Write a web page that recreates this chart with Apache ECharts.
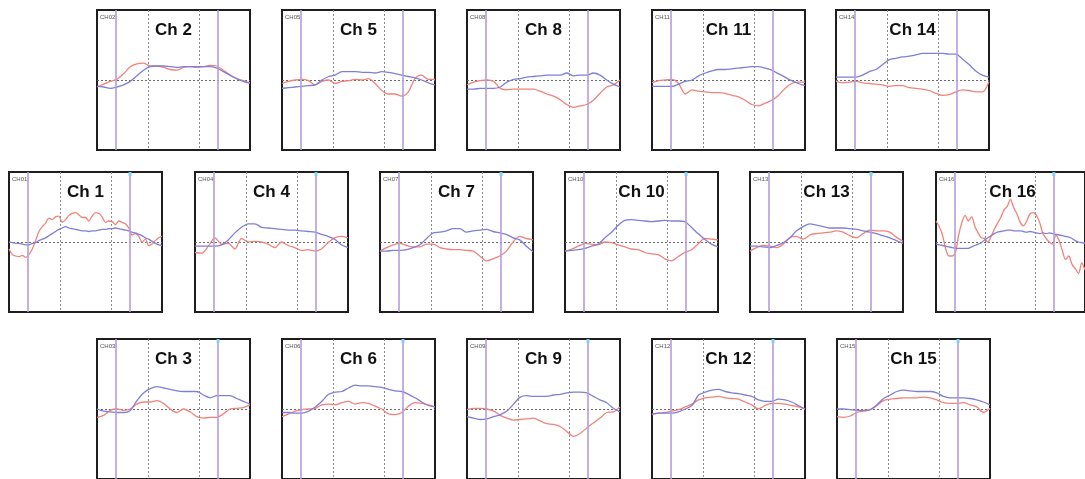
<!DOCTYPE html>
<html>
<head>
<meta charset="utf-8">
<script src="https://cdn.jsdelivr.net/npm/echarts@6/dist/echarts.min.js"></script>
<style>
  html, body { margin: 0; padding: 0; background: #fff; }
  #chart { width: 1085px; height: 479px; }
</style>
</head>
<body>
<div id="chart"></div>
<script>
// ------------------------------------------------------------
// data: relative signal per channel, blue = oxy, red = deoxy
// each list is sampled evenly over the 0..45 s window
// ------------------------------------------------------------
var ch1Blue = [0.0, -0.01, -0.02, -0.02, -0.03, -0.04, -0.04, -0.02, -0.01, 0.02, 0.04, 0.06, 0.09, 0.12, 0.15, 0.18, 0.2, 0.22, 0.2, 0.19, 0.18, 0.17, 0.16, 0.16, 0.15, 0.16, 0.16, 0.17, 0.18, 0.18, 0.19, 0.19, 0.2, 0.19, 0.18, 0.17, 0.16, 0.14, 0.13, 0.11, 0.09, 0.06, 0.04, 0.01, -0.02, -0.04, -0.05];
var ch1Red = [-0.1, -0.18, -0.2, -0.21, -0.19, -0.22, -0.18, -0.1, 0.02, 0.15, 0.22, 0.27, 0.34, 0.32, 0.36, 0.37, 0.28, 0.32, 0.38, 0.41, 0.42, 0.39, 0.35, 0.35, 0.3, 0.37, 0.42, 0.41, 0.36, 0.28, 0.3, 0.29, 0.25, 0.3, 0.28, 0.26, 0.2, 0.1, 0.12, 0.08, 0.0, 0.04, -0.05, -0.03, 0.02, 0.06, 0.08];

var ch2Blue = [-0.09, -0.1, -0.12, -0.1, -0.07, -0.02, 0.06, 0.14, 0.19, 0.2, 0.2, 0.19, 0.18, 0.19, 0.19, 0.19, 0.19, 0.19, 0.17, 0.12, 0.07, 0.02, -0.02, -0.05];
var ch2Red = [-0.1, -0.06, -0.02, 0.01, 0.09, 0.19, 0.23, 0.24, 0.2, 0.2, 0.18, 0.15, 0.14, 0.18, 0.19, 0.18, 0.19, 0.21, 0.2, 0.14, 0.07, 0.02, -0.01, -0.04];

var ch3Blue = [0.0, -0.03, -0.04, -0.05, -0.05, -0.02, 0.12, 0.23, 0.29, 0.32, 0.3, 0.28, 0.26, 0.25, 0.25, 0.25, 0.2, 0.16, 0.19, 0.19, 0.19, 0.15, 0.11, 0.07];
var ch3Red = [-0.12, -0.09, -0.02, 0.0, -0.02, 0.0, 0.07, 0.1, 0.1, 0.12, 0.08, 0.0, -0.05, 0.0, -0.04, -0.11, -0.13, -0.12, -0.12, -0.07, 0.0, 0.01, 0.02, 0.06];

var ch4Blue = [-0.06, -0.06, -0.06, -0.06, -0.04, 0.03, 0.13, 0.21, 0.26, 0.26, 0.21, 0.2, 0.19, 0.18, 0.17, 0.17, 0.16, 0.15, 0.14, 0.11, 0.08, 0.04, -0.04, -0.08];
var ch4Red = [-0.15, -0.16, -0.06, 0.06, -0.03, -0.02, -0.1, 0.05, 0.0, 0.01, 0.0, -0.03, -0.08, 0.0, -0.05, -0.08, -0.12, -0.11, -0.13, -0.1, -0.01, 0.06, 0.08, 0.06];

var ch5Blue = [-0.12, -0.11, -0.1, -0.09, -0.08, -0.07, 0.0, 0.05, 0.07, 0.12, 0.12, 0.12, 0.11, 0.11, 0.1, 0.12, 0.11, 0.09, 0.07, 0.05, 0.03, 0.0, -0.04, -0.07];
var ch5Red = [-0.05, -0.02, 0.0, 0.01, -0.01, -0.07, -0.02, 0.0, -0.05, -0.02, -0.01, 0.01, 0.0, 0.02, -0.05, -0.15, -0.2, -0.2, -0.23, -0.17, 0.02, 0.07, 0.01, 0.01];

var ch6Blue = [-0.05, -0.05, -0.06, -0.06, -0.03, 0.03, 0.11, 0.21, 0.24, 0.25, 0.3, 0.34, 0.33, 0.33, 0.32, 0.31, 0.28, 0.26, 0.25, 0.21, 0.16, 0.1, 0.05, 0.03];
var ch6Red = [-0.11, -0.07, -0.03, -0.01, 0.0, 0.01, 0.06, 0.07, 0.06, 0.09, 0.11, 0.07, 0.09, 0.08, 0.04, 0.0, -0.07, -0.08, -0.05, 0.04, 0.09, 0.08, 0.06, 0.03];

var ch7Blue = [-0.13, -0.13, -0.12, -0.12, -0.11, -0.08, -0.04, 0.05, 0.13, 0.14, 0.16, 0.19, 0.19, 0.14, 0.16, 0.17, 0.18, 0.15, 0.13, 0.11, 0.06, 0.03, -0.06, -0.14];
var ch7Red = [-0.13, -0.08, -0.04, -0.02, -0.05, -0.07, -0.07, -0.03, -0.03, -0.08, -0.1, -0.11, -0.11, -0.12, -0.13, -0.2, -0.27, -0.24, -0.2, -0.13, 0.0, 0.08, 0.05, 0.03];

var ch8Blue = [-0.13, -0.13, -0.12, -0.12, -0.12, -0.1, -0.03, 0.01, 0.02, 0.04, 0.05, 0.06, 0.07, 0.07, 0.07, 0.1, 0.06, 0.07, 0.07, 0.1, 0.07, 0.0, -0.06, -0.1];
var ch8Red = [-0.07, -0.03, -0.01, 0.0, -0.02, -0.12, -0.14, -0.13, -0.13, -0.13, -0.13, -0.16, -0.2, -0.23, -0.28, -0.35, -0.39, -0.37, -0.35, -0.29, -0.19, -0.1, -0.07, 0.0];

var ch9Blue = [-0.11, -0.13, -0.15, -0.14, -0.11, -0.08, -0.03, 0.07, 0.17, 0.19, 0.18, 0.18, 0.18, 0.2, 0.21, 0.23, 0.24, 0.24, 0.23, 0.18, 0.13, 0.09, 0.01, -0.04];
var ch9Red = [-0.01, 0.01, 0.01, 0.0, -0.03, -0.09, -0.13, -0.16, -0.15, -0.14, -0.13, -0.17, -0.21, -0.22, -0.25, -0.32, -0.39, -0.35, -0.27, -0.2, -0.13, -0.05, -0.04, 0.03];

var ch10Blue = [-0.13, -0.12, -0.11, -0.09, -0.06, -0.03, 0.06, 0.14, 0.24, 0.31, 0.32, 0.31, 0.3, 0.29, 0.3, 0.31, 0.3, 0.3, 0.29, 0.21, 0.12, 0.04, -0.03, -0.07];
var ch10Red = [-0.13, -0.1, -0.06, -0.02, -0.03, -0.04, 0.0, -0.01, -0.04, -0.07, -0.1, -0.11, -0.15, -0.17, -0.18, -0.24, -0.27, -0.21, -0.15, -0.11, -0.03, 0.05, 0.04, 0.03];

var ch11Blue = [-0.09, -0.09, -0.09, -0.09, -0.06, -0.02, 0.0, 0.06, 0.1, 0.13, 0.15, 0.15, 0.16, 0.17, 0.18, 0.19, 0.19, 0.17, 0.14, 0.09, 0.04, -0.01, -0.05, -0.08];
var ch11Red = [-0.04, -0.01, 0.0, 0.01, -0.05, -0.2, -0.14, -0.16, -0.17, -0.18, -0.18, -0.19, -0.22, -0.24, -0.29, -0.35, -0.37, -0.33, -0.29, -0.22, -0.12, -0.05, -0.03, -0.03];

var ch12Blue = [-0.07, -0.06, -0.06, -0.06, -0.04, 0.0, 0.05, 0.2, 0.24, 0.27, 0.28, 0.25, 0.23, 0.22, 0.2, 0.18, 0.13, 0.11, 0.11, 0.14, 0.13, 0.1, 0.05, 0.0];
var ch12Red = [-0.08, -0.06, -0.05, -0.03, -0.01, 0.03, 0.07, 0.13, 0.16, 0.17, 0.18, 0.16, 0.15, 0.14, 0.1, 0.06, 0.0, 0.05, 0.08, 0.08, 0.07, 0.05, 0.03, 0.0];

var ch13Blue = [-0.06, -0.06, -0.07, -0.08, -0.05, -0.01, 0.06, 0.16, 0.22, 0.26, 0.24, 0.22, 0.2, 0.2, 0.2, 0.19, 0.18, 0.16, 0.14, 0.12, 0.09, 0.06, 0.02, -0.02];
var ch13Red = [-0.13, -0.08, -0.05, -0.06, -0.08, -0.03, 0.06, 0.08, 0.04, 0.1, 0.12, 0.13, 0.14, 0.16, 0.14, 0.09, 0.06, 0.12, 0.17, 0.16, 0.16, 0.14, 0.07, 0.01];

var ch14Blue = [0.04, 0.04, 0.04, 0.04, 0.07, 0.12, 0.15, 0.22, 0.29, 0.31, 0.33, 0.34, 0.36, 0.38, 0.38, 0.38, 0.38, 0.37, 0.37, 0.3, 0.22, 0.13, 0.07, 0.04];
var ch14Red = [-0.02, -0.04, -0.03, -0.02, -0.04, -0.05, -0.06, -0.07, -0.09, -0.08, -0.08, -0.11, -0.12, -0.13, -0.15, -0.19, -0.22, -0.21, -0.17, -0.14, -0.15, -0.17, -0.17, -0.02];

var ch15Blue = [0.0, 0.0, -0.01, -0.02, -0.02, -0.01, 0.06, 0.15, 0.2, 0.25, 0.27, 0.26, 0.25, 0.25, 0.25, 0.23, 0.18, 0.16, 0.16, 0.16, 0.15, 0.13, 0.1, 0.06];
var ch15Red = [-0.11, -0.12, -0.1, -0.05, -0.03, -0.01, 0.05, 0.12, 0.14, 0.15, 0.16, 0.16, 0.16, 0.17, 0.16, 0.13, 0.09, 0.08, 0.08, 0.09, 0.06, 0.03, -0.05, 0.01];

var ch16Blue = [-0.03, -0.04, -0.05, -0.06, -0.07, -0.08, -0.09, -0.09, -0.09, -0.09, -0.09, -0.07, -0.05, -0.03, -0.01, 0.03, 0.06, 0.09, 0.12, 0.14, 0.15, 0.16, 0.17, 0.17, 0.16, 0.16, 0.16, 0.15, 0.14, 0.15, 0.14, 0.13, 0.12, 0.13, 0.12, 0.13, 0.12, 0.11, 0.1, 0.09, 0.08, 0.07, 0.05, 0.02, 0.0, -0.01, -0.02];
var ch16Red = [0.3, 0.22, 0.1, -0.1, -0.2, -0.2, -0.15, 0.1, 0.28, 0.38, 0.3, 0.36, 0.22, 0.13, 0.06, 0.05, 0.0, 0.08, 0.18, 0.27, 0.35, 0.46, 0.51, 0.61, 0.49, 0.4, 0.28, 0.23, 0.3, 0.4, 0.42, 0.38, 0.28, 0.12, 0.05, 0.0, -0.03, 0.1, 0.02, -0.12, -0.25, -0.2, -0.32, -0.38, -0.45, -0.3, -0.4];

// window length (s), task onset / offset markers, stimulus tick
var TIME_MAX = 45;
var TASK_MARKS = [5.6, 35.6];
var STIM_TICK = [35.6, 0.97];

// ------------------------------------------------------------
// panel layout
// ------------------------------------------------------------
var PANEL_W = 153;
var PANEL_H = 140;

var PANELS = [
  { ch: 2,  left: 97,  top: 10,  blue: ch2Blue,  red: ch2Red,  tick: false },
  { ch: 5,  left: 282, top: 10,  blue: ch5Blue,  red: ch5Red,  tick: false },
  { ch: 8,  left: 467, top: 10,  blue: ch8Blue,  red: ch8Red,  tick: false },
  { ch: 11, left: 652, top: 10,  blue: ch11Blue, red: ch11Red, tick: false },
  { ch: 14, left: 836, top: 10,  blue: ch14Blue, red: ch14Red, tick: false },
  { ch: 1,  left: 9,   top: 172, blue: ch1Blue,  red: ch1Red,  tick: true },
  { ch: 4,  left: 195, top: 172, blue: ch4Blue,  red: ch4Red,  tick: true },
  { ch: 7,  left: 380, top: 172, blue: ch7Blue,  red: ch7Red,  tick: true },
  { ch: 10, left: 565, top: 172, blue: ch10Blue, red: ch10Red, tick: true },
  { ch: 13, left: 750, top: 172, blue: ch13Blue, red: ch13Red, tick: true },
  { ch: 16, left: 936, top: 172, blue: ch16Blue, red: ch16Red, tick: true },
  { ch: 3,  left: 97,  top: 339, blue: ch3Blue,  red: ch3Red,  tick: true },
  { ch: 6,  left: 282, top: 339, blue: ch6Blue,  red: ch6Red,  tick: true },
  { ch: 9,  left: 467, top: 339, blue: ch9Blue,  red: ch9Red,  tick: true },
  { ch: 12, left: 652, top: 339, blue: ch12Blue, red: ch12Red, tick: true },
  { ch: 15, left: 837, top: 339, blue: ch15Blue, red: ch15Red, tick: true },
];

var BLUE = '#7f7fd8';
var RED = '#f2837a';
var PURPLE = '#b49ddc';

function toPairs(values) {
  var n = values.length;
  return values.map(function(v, i) {
    return [TIME_MAX * i / (n - 1), v];
  });
}

function pad2(n) {
  return n < 10 ? '0' + n : '' + n;
}

var grids = [];
var xAxes = [];
var yAxes = [];
var series = [];
var graphics = [];

PANELS.forEach(function(p, idx) {
  grids.push({
    left: p.left,
    top: p.top,
    width: PANEL_W,
    height: PANEL_H,
    show: true,
    borderColor: '#1e1e1e',
    borderWidth: 2,
    backgroundColor: '#fff',
    z: 0,
  });
  xAxes.push({
    type: 'value',
    gridIndex: idx,
    min: 0,
    max: TIME_MAX,
    interval: 15,
    axisLine: { show: false },
    axisTick: { show: false },
    axisLabel: { show: false },
    splitLine: {
      show: true,
      showMinLine: false,
      showMaxLine: false,
      lineStyle: { color: '#8a8a8a', type: [2, 2], width: 1 },
    },
  });
  yAxes.push({
    type: 'value',
    gridIndex: idx,
    min: -1,
    max: 1,
    interval: 1,
    axisLine: { show: false },
    axisTick: { show: false },
    axisLabel: { show: false },
    splitLine: {
      show: true,
      showMinLine: false,
      showMaxLine: false,
      lineStyle: { color: '#6a6a6a', type: [2, 2], width: 1 },
    },
  });
  var redSeries = {
    type: 'line',
    xAxisIndex: idx,
    yAxisIndex: idx,
    data: toPairs(p.red),
    showSymbol: false,
    smooth: 0.3,
    lineStyle: { color: RED, width: 1.3 },
    z: 3,
    silent: true,
    markLine: {
      silent: true,
      symbol: ['none', 'none'],
      label: { show: false },
      lineStyle: { color: PURPLE, type: 'solid', width: 1.6 },
      data: TASK_MARKS.map(function(t) { return { xAxis: t }; }),
    },
  };
  if (p.tick) {
    redSeries.markPoint = {
      silent: true,
      symbol: 'rect',
      symbolSize: [3, 4],
      itemStyle: { color: '#7fd3f2' },
      label: { show: false },
      data: [{ coord: STIM_TICK }],
    };
  }
  series.push(redSeries);
  series.push({
    type: 'line',
    xAxisIndex: idx,
    yAxisIndex: idx,
    data: toPairs(p.blue),
    showSymbol: false,
    smooth: 0.3,
    lineStyle: { color: BLUE, width: 1.3 },
    z: 4,
    silent: true,
  });
  graphics.push({
    type: 'text',
    x: p.left + PANEL_W / 2,
    y: p.top + 20,
    style: {
      text: 'Ch ' + p.ch,
      font: 'bold 17px "Liberation Sans", Arial, sans-serif',
      fill: '#111',
      align: 'center',
      verticalAlign: 'middle',
    },
    z: 10,
  });
  graphics.push({
    type: 'text',
    x: p.left + 3,
    y: p.top + 4,
    style: {
      text: 'CH' + pad2(p.ch),
      font: '6px "Liberation Sans", Arial, sans-serif',
      fill: '#555',
      align: 'left',
      verticalAlign: 'top',
    },
    z: 10,
  });
});

var chart = echarts.init(document.getElementById('chart'), null, { renderer: 'canvas' });
chart.setOption({
  animation: false,
  backgroundColor: '#fff',
  grid: grids,
  xAxis: xAxes,
  yAxis: yAxes,
  series: series,
  graphic: graphics,
});
</script>
</body>
</html>
